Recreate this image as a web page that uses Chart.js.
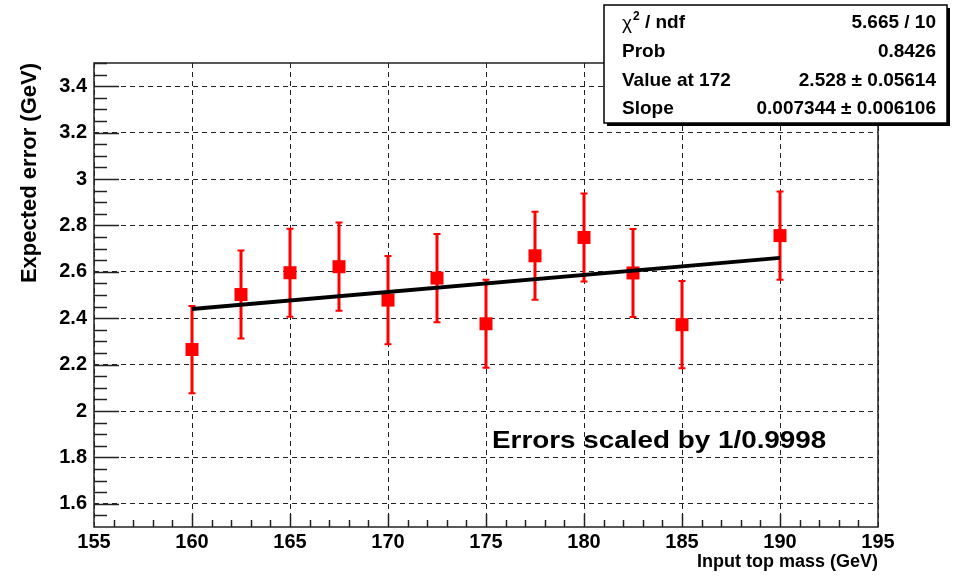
<!DOCTYPE html>
<html>
<head>
<meta charset="utf-8">
<script src="https://cdn.jsdelivr.net/npm/chart.js@4.4.1/dist/chart.umd.min.js"></script>
<style>
  html, body { margin: 0; padding: 0; background: #fff; }
  #wrap { width: 959px; height: 576px; }
</style>
</head>
<body>
<div id="wrap"><canvas id="massChart" width="959" height="576"></canvas></div>
<script>
// data
const massPoints = [160, 162.5, 165, 167.5, 170, 172.5, 175, 177.5, 180, 182.5, 185, 190];
const expectedError = [2.265, 2.502, 2.596, 2.622, 2.478, 2.573, 2.376, 2.669, 2.748, 2.595, 2.372, 2.756];
const errorSize = [0.188, 0.19, 0.19, 0.19, 0.19, 0.19, 0.19, 0.19, 0.19, 0.19, 0.188, 0.19];

// fitted straight line (endpoints)
const fitMass = [160, 190];
const fitValue = [2.440, 2.660];

// axis ticks
const xTicks = [155, 160, 165, 170, 175, 180, 185, 190, 195];
const yTicks = [1.6, 1.8, 2, 2.2, 2.4, 2.6, 2.8, 3, 3.2, 3.4];

// fit statistics box
const statNames = ['/ ndf', 'Prob', 'Value at 172', 'Slope'];
const statValues = ['5.665 / 10', '0.8426', '2.528 \u00b1 0.05614', '0.007344 \u00b1 0.006106'];
const noteText = 'Errors scaled by 1/0.9998';

const FONT = '"Liberation Sans", Arial, Helvetica, sans-serif';

// error bars under the markers
const errorBarPlugin = {
  id: 'errorBars',
  beforeDatasetsDraw(chart) {
    const ctx = chart.ctx;
    const xs = chart.scales.x, ys = chart.scales.y;
    ctx.save();
    ctx.strokeStyle = '#ff0000';
    massPoints.forEach((m, i) => {
      const px = xs.getPixelForValue(m);
      const top = ys.getPixelForValue(expectedError[i] + errorSize[i]);
      const bot = ys.getPixelForValue(expectedError[i] - errorSize[i]);
      ctx.lineWidth = 3;
      ctx.beginPath();
      ctx.moveTo(px, top);
      ctx.lineTo(px, bot);
      ctx.stroke();
      ctx.lineWidth = 2;
      ctx.beginPath();
      ctx.moveTo(px - 3.5, top); ctx.lineTo(px + 3.5, top);
      ctx.moveTo(px - 3.5, bot); ctx.lineTo(px + 3.5, bot);
      ctx.stroke();
    });
    ctx.restore();
  }
};

// frame, inward ticks, stats box and note
const framePlugin = {
  id: 'rootFrame',
  afterDraw(chart) {
    const ctx = chart.ctx;
    const a = chart.chartArea;
    const xs = chart.scales.x, ys = chart.scales.y;
    ctx.save();
    ctx.strokeStyle = '#222';
    ctx.lineWidth = 1.5;
    ctx.strokeRect(a.left, a.top, a.right - a.left, a.bottom - a.top);

    // y ticks on the left axis
    ctx.beginPath();
    for (let v = 1.55; v < 3.5; v += 0.05) {
      const py = Math.round(ys.getPixelForValue(v)) + 0.5;
      const major = yTicks.some(t => Math.abs(t - v) < 1e-6);
      ctx.moveTo(a.left, py);
      ctx.lineTo(a.left + (major ? 25 : 13), py);
    }
    // x ticks on the bottom axis
    for (let v = 156; v < 195; v += 1) {
      const px = Math.round(xs.getPixelForValue(v)) + 0.5;
      const major = xTicks.includes(v);
      ctx.moveTo(px, a.bottom);
      ctx.lineTo(px, a.bottom - (major ? 13 : 7));
    }
    ctx.stroke();

    // note text
    ctx.fillStyle = '#000';
    ctx.font = 'bold 24px ' + FONT;
    ctx.textBaseline = 'alphabetic';
    ctx.textAlign = 'left';
    ctx.save();
    ctx.translate(492, 448);
    ctx.scale(1.16, 1);
    ctx.fillText(noteText, 0, 0);
    ctx.restore();

    // stats box
    const bx = 604, by = 5, bw = 343, bh = 118;
    ctx.fillStyle = '#000';
    ctx.fillRect(bx + 3, by + 3, bw, bh);
    ctx.fillStyle = '#fff';
    ctx.fillRect(bx, by, bw, bh);
    ctx.strokeStyle = '#000';
    ctx.lineWidth = 1.5;
    ctx.strokeRect(bx, by, bw, bh);

    const rows = [23, 52, 81, 109];
    ctx.fillStyle = '#000';
    ctx.textBaseline = 'middle';
    rows.forEach((ry, i) => {
      ctx.textAlign = 'left';
      if (i === 0) {
        ctx.font = '19px ' + FONT;
        ctx.fillText('\u03c7', 622, ry + 1);
        let w = ctx.measureText('\u03c7').width;
        ctx.font = 'bold 12px ' + FONT;
        ctx.fillText('2', 622 + w + 1, ry - 6);
        w += ctx.measureText('2').width + 1;
        ctx.font = 'bold 19px ' + FONT;
        ctx.fillText(' ' + statNames[i], 622 + w, ry);
      } else {
        ctx.font = 'bold 19px ' + FONT;
        ctx.fillText(statNames[i], 622, ry);
      }
      ctx.font = 'bold 19px ' + FONT;
      ctx.textAlign = 'right';
      ctx.fillText(statValues[i], 936, ry);
    });
    ctx.restore();
  }
};

const points = massPoints.map((m, i) => ({ x: m, y: expectedError[i] }));
const fitLine = fitMass.map((m, i) => ({ x: m, y: fitValue[i] }));

new Chart(document.getElementById('massChart').getContext('2d'), {
  type: 'scatter',
  data: {
    datasets: [
      {
        label: 'fit',
        data: fitLine,
        showLine: true,
        borderColor: '#000',
        borderWidth: 4,
        pointRadius: 0,
        order: 0
      },
      {
        label: 'expected error',
        data: points,
        pointStyle: 'rect',
        pointRadius: 9.2,
        backgroundColor: '#ff0000',
        borderWidth: 0,
        order: 1
      }
    ]
  },
  options: {
    responsive: false,
    animation: false,
    layout: { padding: { left: 0, right: 81, top: 63, bottom: 0 } },
    plugins: {
      legend: { display: false },
      tooltip: { enabled: false }
    },
    scales: {
      x: {
        type: 'linear',
        min: 155,
        max: 195,
        afterBuildTicks: s => { s.ticks = xTicks.map(v => ({ value: v })); },
        afterFit: s => { s.height = 49; },
        grid: { color: '#222', lineWidth: 1, drawTicks: false },
        border: { display: false, dash: [5, 4] },
        ticks: {
          color: '#000',
          font: { family: FONT, size: 20, weight: 'bold' },
          padding: 3,
          maxRotation: 0,
          autoSkip: false,
          callback: v => String(v)
        },
        title: {
          display: true,
          text: 'Input top mass (GeV)',
          align: 'end',
          color: '#000',
          font: { family: FONT, size: 18, weight: 'bold' },
          padding: { top: 0, bottom: 3 }
        }
      },
      y: {
        min: 1.5,
        max: 3.5,
        afterBuildTicks: s => { s.ticks = yTicks.map(v => ({ value: v })); },
        afterFit: s => { s.width = 94; },
        grid: { color: '#222', lineWidth: 1, drawTicks: false },
        border: { display: false, dash: [5, 4] },
        ticks: {
          color: '#000',
          font: { family: FONT, size: 20, weight: 'bold' },
          padding: 7,
          autoSkip: false,
          callback: v => String(v)
        },
        title: {
          display: true,
          text: 'Expected error (GeV)',
          align: 'end',
          color: '#000',
          font: { family: FONT, size: 22, weight: 'bold' },
          padding: { top: 17, bottom: 0 }
        }
      }
    }
  },
  plugins: [errorBarPlugin, framePlugin]
});
</script>
</body>
</html>
